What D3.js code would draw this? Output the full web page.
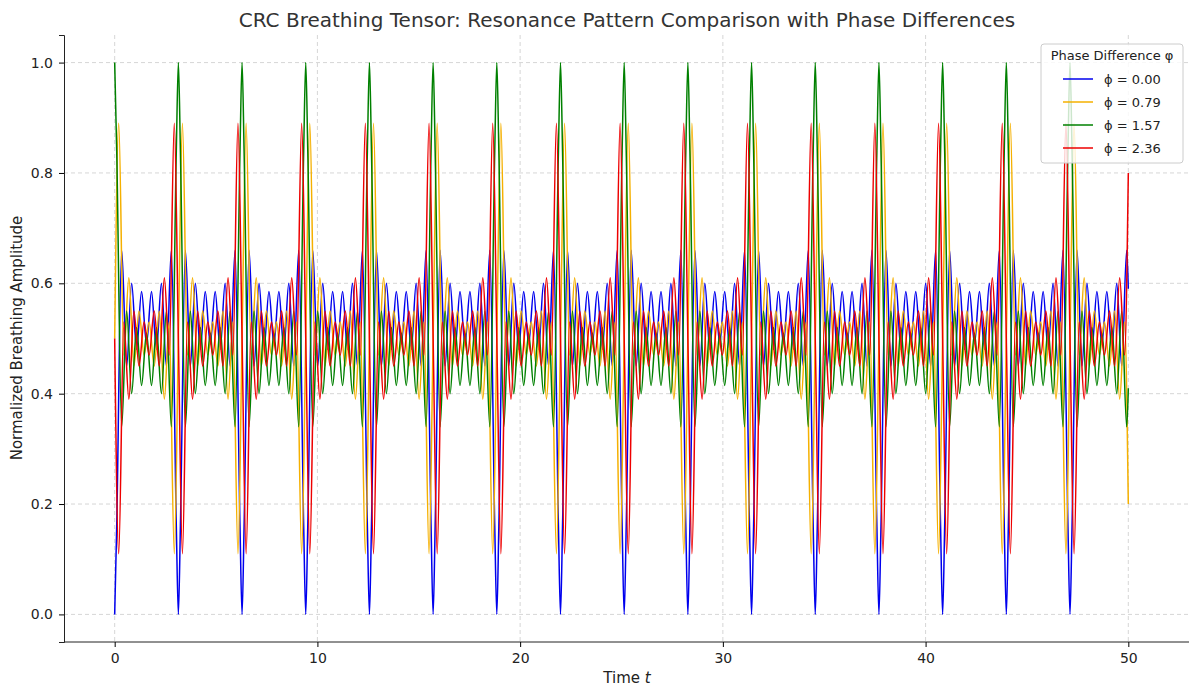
<!DOCTYPE html>
<html><head><meta charset="utf-8">
<script src="https://cdn.jsdelivr.net/npm/d3@7"></script>
<style>body{margin:0;background:#fff;font-family:"DejaVu Sans",sans-serif}</style>
</head><body>
<svg width="1200" height="696"></svg>
<script>
// one period (length pi) of each curve, read as keypoints [offset, value]
const period = Math.PI;
const tMax = 50;
const blueKeys = [[0,0],[0.1,0.16],[0.346,0.66],[0.591,0.45],[0.836,0.60],[1.081,0.48],[1.326,0.585],[1.571,0.49],[1.816,0.585],[2.061,0.48],[2.306,0.60],[2.551,0.45],[2.796,0.66],[3.04,0.16]];
const yellowKeys = [[0,0.5],[0.2,0.89],[0.45,0.47],[0.7,0.61],[0.95,0.45],[1.2,0.55],[1.45,0.47],[1.7,0.53],[1.95,0.45],[2.2,0.55],[2.45,0.39],[2.69,0.53],[2.94,0.11]];
const greenKeys = [[0,1],[0.1,0.84],[0.346,0.34],[0.591,0.55],[0.836,0.40],[1.081,0.52],[1.326,0.415],[1.571,0.51],[1.816,0.415],[2.061,0.52],[2.306,0.40],[2.551,0.55],[2.796,0.34],[3.04,0.84]];
const redKeys = [[0,0.5],[0.2,0.11],[0.45,0.53],[0.7,0.39],[0.95,0.55],[1.2,0.45],[1.45,0.53],[1.7,0.47],[1.95,0.55],[2.2,0.45],[2.45,0.61],[2.69,0.47],[2.94,0.89]];
const endValues = [0.59, 0.20, 0.41, 0.80];
const labels = ["\u03d5 = 0.00", "\u03d5 = 0.79", "\u03d5 = 1.57", "\u03d5 = 2.36"];
const colors = ["#0000ee", "#f5b000", "#008000", "#ee0000"];
const xTicks = [0, 10, 20, 30, 40, 50];
const yTicks = [0, 0.2, 0.4, 0.6, 0.8, 1.0];

function tile(keys, endV) {
  let pts = [];
  for (let k = 0; k * period <= tMax; k++) {
    keys.forEach(p => { let t = k * period + p[0]; if (t < tMax) pts.push([t, p[1]]); });
  }
  pts.push([tMax, endV]);
  return pts;
}
const series = [blueKeys, yellowKeys, greenKeys, redKeys].map((k, i) => tile(k, endValues[i]));

const svg = d3.select("svg");
const x = d3.scaleLinear().domain([-2.5, 52.5]).range([64, 1179]);
const y = d3.scaleLinear().domain([-0.05, 1.05]).range([642, 35]);

// grid
svg.append("g").selectAll("line").data(xTicks).enter().append("line")
  .attr("x1", d => x(d)).attr("x2", d => x(d)).attr("y1", 35).attr("y2", 642)
  .attr("stroke", "#ccc").attr("stroke-dasharray", "4,3").attr("stroke-width", 0.8);
svg.append("g").selectAll("line").data(yTicks).enter().append("line")
  .attr("x1", 64).attr("x2", 1189).attr("y1", d => y(d)).attr("y2", d => y(d))
  .attr("stroke", "#ccc").attr("stroke-dasharray", "4,3").attr("stroke-width", 0.8);

const line = d3.line().x(d => x(d[0])).y(d => y(d[1])).curve(d3.curveMonotoneX);
series.forEach((s, i) => {
  svg.append("path").datum(s).attr("d", line).attr("fill", "none")
    .attr("stroke", colors[i]).attr("stroke-width", 1.5);
});

const xAxis = svg.append("g").attr("transform", "translate(0,642)")
  .call(d3.axisBottom(x).tickValues(xTicks).tickSize(5).tickPadding(6));
const yAxis = svg.append("g").attr("transform", "translate(64,0)")
  .call(d3.axisLeft(y).tickValues(yTicks).tickFormat(d3.format(".1f")).tickSize(5).tickPadding(6));
[xAxis, yAxis].forEach(a => {
  a.selectAll("text").attr("font-size", 14).attr("fill", "#222").attr("font-family", "DejaVu Sans");
  a.select(".domain").attr("stroke", "#222");
});
xAxis.select(".domain").attr("d", "M64,0H1189");

svg.append("text").attr("x", 627).attr("y", 27).attr("text-anchor", "middle")
  .attr("font-size", 20).attr("fill", "#333")
  .text("CRC Breathing Tensor: Resonance Pattern Comparison with Phase Differences");
svg.append("text").attr("x", 627).attr("y", 683).attr("text-anchor", "middle")
  .attr("font-size", 15).attr("fill", "#222")
  .html('Time <tspan font-style="italic">t</tspan>');
svg.append("text").attr("transform", "translate(22,338) rotate(-90)").attr("text-anchor", "middle")
  .attr("font-size", 15).attr("fill", "#222").text("Normalized Breathing Amplitude");

// legend
const lg = svg.append("g").attr("transform", "translate(1041,44)");
lg.append("rect").attr("width", 142).attr("height", 119).attr("rx", 3)
  .attr("fill", "rgba(255,255,255,0.8)").attr("stroke", "#ccc");
lg.append("text").attr("x", 71).attr("y", 16).attr("text-anchor", "middle")
  .attr("font-size", 13).attr("fill", "#222").text("Phase Difference \u03c6");
labels.forEach((l, i) => {
  const yy = 35 + i * 23;
  lg.append("line").attr("x1", 22).attr("x2", 52).attr("y1", yy).attr("y2", yy)
    .attr("stroke", colors[i]).attr("stroke-width", 1.5);
  lg.append("text").attr("x", 63).attr("y", yy + 5).attr("font-size", 13).attr("fill", "#222").text(l);
});
</script>
</body></html>
